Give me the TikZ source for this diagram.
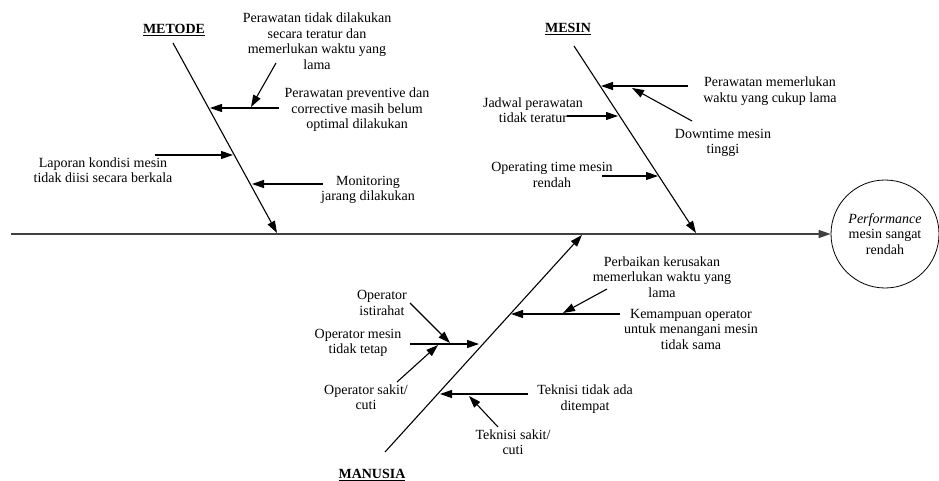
\documentclass[tikz,border=0pt]{standalone}
\usepackage{fontspec}
\setmainfont{Liberation Serif}
\usetikzlibrary{arrows.meta}

\begin{document}
\begin{tikzpicture}[x=1pt, y=-1pt, >={Triangle[length=12pt,width=8pt]}]
    \tikzstyle{cause_style} = [align=center, inner sep=0pt, font=\fontsize{14}{15.5}\selectfont]
    \tikzstyle{group_style} = [inner sep=0pt, font=\fontsize{14}{15.5}\selectfont\bfseries]
    \tikzstyle{bone_style} = [draw=black, line width=1.1pt, ->]
    \tikzstyle{spine_style} = [draw=black!75, line width=1.6pt, ->]
    \tikzstyle{effect_style} = [circle, draw=black, line width=0.8pt, minimum size=108pt, inner sep=0pt, align=center, font=\fontsize{14}{15.5}\selectfont]
    \useasboundingbox (0,0) rectangle (939,481);

    % effect and spine
    \coordinate (spine_tail) at (11,234);
    \node[effect_style] (effect) at (885,234) {\textit{Performance}\\mesin sangat\\rendah};
    \draw[spine_style] (spine_tail) -- (effect);

    % main bones
    \node[group_style] (metode) at (174,30) {\underline{METODE}};
    \node[group_style] (mesin) at (568,29) {\underline{MESIN}};
    \node[group_style] (manusia) at (372,475) {\underline{MANUSIA}};
    \coordinate (metode_top) at (173,43);
    \coordinate (metode_end) at (277,233);
    \coordinate (mesin_top) at (574,46);
    \coordinate (mesin_end) at (696,233);
    \coordinate (manusia_bot) at (385,452);
    \coordinate (manusia_end) at (582,235);
    \draw[bone_style] (metode_top) -- (metode_end);
    \draw[bone_style] (mesin_top) -- (mesin_end);
    \draw[bone_style] (manusia_bot) -- (manusia_end);

    % metode
    \node[cause_style] (m1) at (317,41) {Perawatan tidak dilakukan\\secara teratur dan\\memerlukan waktu yang\\lama};
    \node[cause_style] (m2) at (357,110) {Perawatan preventive dan\\corrective masih belum\\optimal dilakukan};
    \node[cause_style] (m3) at (103,170) {Laporan kondisi mesin\\tidak diisi secara berkala};
    \node[cause_style] (m4) at (368,190) {Monitoring\\jarang dilakukan};
    \coordinate (m1_tail) at (276,63);   \coordinate (m1_tip) at (251,107);
    \coordinate (m2_tail) at (279,108);  \coordinate (m2_tip) at (210,108);
    \coordinate (m3_tail) at (155,155);  \coordinate (m3_tip) at (233,155);
    \coordinate (m4_tail) at (323,184);  \coordinate (m4_tip) at (252,184);
    \draw[bone_style] (m1_tail) -- (m1_tip);
    \draw[bone_style] (m2_tail) -- (m2_tip);
    \draw[bone_style] (m3_tail) -- (m3_tip);
    \draw[bone_style] (m4_tail) -- (m4_tip);

    % mesin
    \node[cause_style] (s1) at (770,91) {Perawatan memerlukan\\waktu yang cukup lama};
    \node[cause_style] (s2) at (723,143) {Downtime mesin\\tinggi};
    \node[cause_style] (s3) at (533,110) {Jadwal perawatan\\tidak teratur};
    \node[cause_style] (s4) at (552,175) {Operating time mesin\\rendah};
    \coordinate (s1_tail) at (688,86);   \coordinate (s1_tip) at (601,86);
    \coordinate (s2_tail) at (692,121);  \coordinate (s2_tip) at (632,88);
    \coordinate (s3_tail) at (567,116);  \coordinate (s3_tip) at (618,116);
    \coordinate (s4_tail) at (602,176);  \coordinate (s4_tip) at (658,176);
    \draw[bone_style] (s1_tail) -- (s1_tip);
    \draw[bone_style] (s2_tail) -- (s2_tip);
    \draw[bone_style] (s3_tail) -- (s3_tip);
    \draw[bone_style] (s4_tail) -- (s4_tip);

    % manusia
    \node[cause_style] (p1) at (662,277) {Perbaikan kerusakan\\memerlukan waktu yang\\lama};
    \node[cause_style] (p2) at (691,329) {Kemampuan operator\\untuk menangani mesin\\tidak sama};
    \node[cause_style] (p3) at (382,303) {Operator\\istirahat};
    \node[cause_style] (p4) at (358,343) {Operator mesin\\tidak tetap};
    \node[cause_style] (p5) at (366,397) {Operator sakit/\\cuti};
    \node[cause_style] (p6) at (585,399) {Teknisi tidak ada\\ditempat};
    \node[cause_style] (p7) at (513,442) {Teknisi sakit/\\cuti};
    \coordinate (p1_tail) at (607,289);  \coordinate (p1_tip) at (563,313);
    \coordinate (p2_tail) at (620,314);  \coordinate (p2_tip) at (511,314);
    \coordinate (p3_tail) at (410,303);  \coordinate (p3_tip) at (450,343);
    \coordinate (p4_tail) at (410,344);  \coordinate (p4_tip) at (479,344);
    \coordinate (p5_tail) at (397,382);  \coordinate (p5_tip) at (438,345);
    \coordinate (p6_tail) at (528,394);  \coordinate (p6_tip) at (440,394);
    \coordinate (p7_tail) at (498,427);  \coordinate (p7_tip) at (469,396);
    \draw[bone_style] (p1_tail) -- (p1_tip);
    \draw[bone_style] (p2_tail) -- (p2_tip);
    \draw[bone_style] (p3_tail) -- (p3_tip);
    \draw[bone_style] (p4_tail) -- (p4_tip);
    \draw[bone_style] (p5_tail) -- (p5_tip);
    \draw[bone_style] (p6_tail) -- (p6_tip);
    \draw[bone_style] (p7_tail) -- (p7_tip);
\end{tikzpicture}
\end{document}
